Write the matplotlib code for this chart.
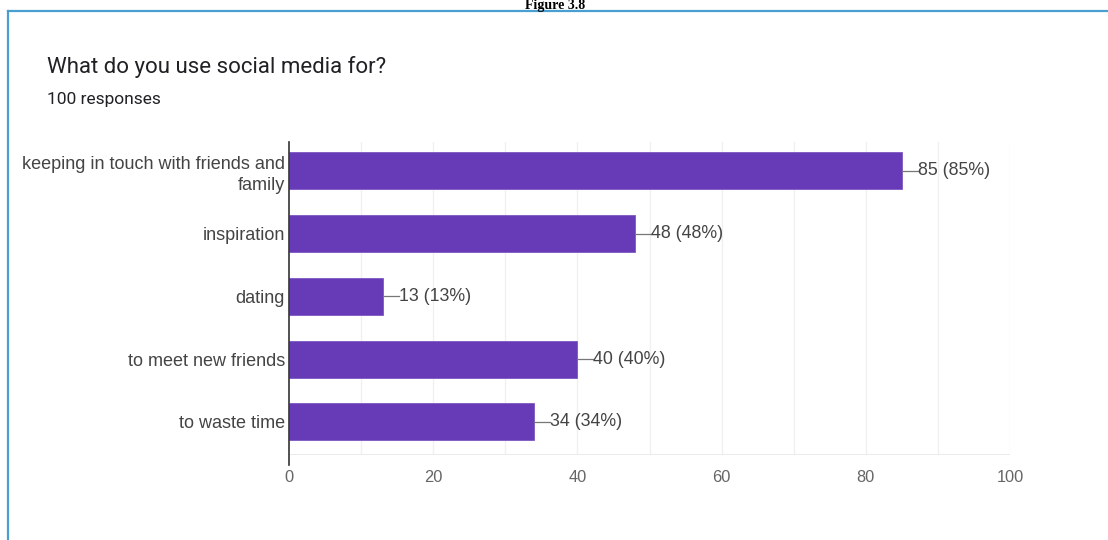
import matplotlib.pyplot as plt
from matplotlib.lines import Line2D

# survey answers, top to bottom
categories = ["keeping in touch with friends and\nfamily", "inspiration", "dating",
              "to meet new friends", "to waste time"]
counts = [85, 48, 13, 40, 34]
total = 100
xticks = [0, 20, 40, 60, 80, 100]

W, H = 1108, 540
fig = plt.figure(figsize=(W / 100, H / 100), dpi=100)
fig.patch.set_facecolor("white")

# frame round the chart (runs off the right and bottom edge)
fig.add_artist(Line2D([8 / W, 1.01], [1 - 11 / H, 1 - 11 / H], color="#4a9fd1", lw=1.6,
                      transform=fig.transFigure))
fig.add_artist(Line2D([8 / W, 8 / W], [1 - 11 / H, -0.01], color="#4a9fd1", lw=1.6,
                      transform=fig.transFigure))
fig.text(555 / W, 1 - 9 / H, "Figure 3.8", ha="center", va="baseline",
         fontsize=10, fontweight="bold", family="Liberation Serif", color="black")

fig.text(47 / W, 1 - 73 / H, "What do you use social media for?", fontsize=16,
         family="Roboto", color="#202124")
fig.text(47 / W, 1 - 104 / H, "100 responses", fontsize=12.5, family="Roboto", color="#202124")

ax = fig.add_axes([289 / W, 1 - 455 / H, 721 / W, 313 / H])
ypos = list(range(len(categories)))
ax.barh(ypos, counts, height=0.59, color="#673ab7", edgecolor="#7e57c2", lw=0.6, zorder=3)
ax.set_xlim(0, 100)
ax.set_ylim(4.53, -0.46)

# faint vertical grid every 10
for gx in range(10, 101, 10):
    ax.axvline(gx, color="#f0f0f0", lw=1, zorder=1)
ax.axhline(4.53, color="#e8e8e8", lw=1.2, zorder=1)

for s in ax.spines.values():
    s.set_visible(False)
ax.plot([0, 0], [4.69, -0.46], color="#333333", lw=1.2, clip_on=False, zorder=4)

ax.set_yticks(ypos)
ax.set_yticklabels(categories, fontsize=13, family="Liberation Sans", color="#444444",
                   linespacing=1.3)
ax.set_xticks(xticks)
ax.set_xticklabels([str(t) for t in xticks], fontsize=11.8, family="Liberation Sans",
                   color="#666666")
ax.tick_params(axis="both", length=0)
ax.tick_params(axis="y", pad=3)
ax.tick_params(axis="x", pad=11)

# value labels with a small leader line
for y, c in zip(ypos, counts):
    ax.plot([c, c + 2.2], [y, y], color="#777777", lw=0.9, zorder=3)
    ax.text(c + 2.2, y, f"{c} ({round(c / total * 100)}%)", va="center", ha="left",
            fontsize=12.8, family="Liberation Sans", color="#444444")

fig.savefig("out.png", dpi=100)
